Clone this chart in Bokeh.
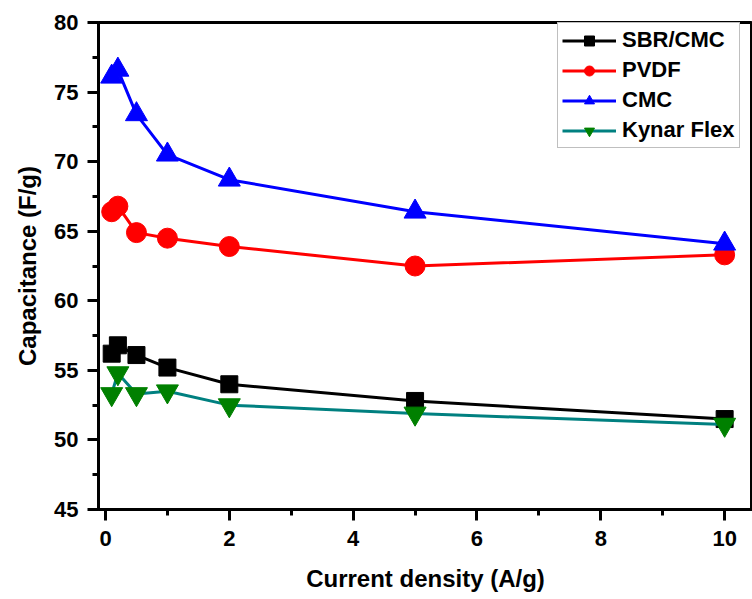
from bokeh.plotting import figure
from bokeh.models import Range1d, SingleIntervalTicker, Legend, LegendItem
from bokeh.embed import file_html
from bokeh.resources import INLINE

# ---- data ----
current_density = [0.1, 0.2, 0.5, 1, 2, 5, 10]
sbr_cmc = [56.2, 56.8, 56.1, 55.2, 54.0, 52.8, 51.5]
pvdf = [66.4, 66.8, 64.9, 64.5, 63.9, 62.5, 63.3]
cmc = [76.1, 76.6, 73.4, 70.5, 68.7, 66.4, 64.1]
kynar_flex = [53.3, 54.8, 53.3, 53.5, 52.5, 51.9, 51.1]

series_names = ["SBR/CMC", "PVDF", "CMC", "Kynar Flex"]
x_label = "Current density (A/g)"
y_label = "Capacitance (F/g)"

FONT = "Liberation Sans"

p = figure(width=752, height=599, output_backend="svg", toolbar_location=None,
           x_range=Range1d(-0.113, 10.45), y_range=Range1d(45, 80),
           min_border_left=98, min_border_right=0, min_border_top=22,
           min_border_bottom=90)
p.grid.visible = False
p.background_fill_color = "white"
p.border_fill_color = "white"
p.outline_line_color = "black"
p.outline_line_width = 3

p.xaxis.ticker = SingleIntervalTicker(interval=2, num_minor_ticks=2)
p.yaxis.ticker = SingleIntervalTicker(interval=5, num_minor_ticks=2)

for ax in (p.xaxis, p.yaxis):
    ax.axis_line_width = 3
    ax.axis_line_color = "black"
    ax.major_tick_line_width = 3
    ax.minor_tick_line_width = 3
    ax.major_tick_out = 11
    ax.major_tick_in = 0
    ax.minor_tick_out = 6
    ax.minor_tick_in = 0
    ax.major_label_text_font = FONT
    ax.major_label_text_font_style = "bold"
    ax.major_label_text_font_size = "22px"
    ax.major_label_text_color = "black"
    ax.axis_label_text_font = FONT
    ax.axis_label_text_font_style = "bold"
    ax.axis_label_text_font_size = "24px"
    ax.axis_label_text_color = "black"

p.xaxis.axis_label = x_label
p.yaxis.axis_label = y_label
p.xaxis.major_label_standoff = 10
p.yaxis.major_label_standoff = 9
p.xaxis.axis_label_standoff = 16
p.yaxis.axis_label_standoff = 10

styles = [
    (sbr_cmc, "black", "black", "square", 17),
    (pvdf, "#FF0000", "#FF0000", "circle", 20),
    (cmc, "#0000FF", "#0000FF", "triangle", 22),
    (kynar_flex, "#008080", "#008000", "inverted_triangle", 22),
]

items = []
for name, (vals, lc, mc, marker, sz) in zip(series_names, styles):
    r_line = p.line(current_density, vals, line_color=lc, line_width=3)
    r_pt = p.scatter(current_density, vals, marker=marker, size=sz,
                     fill_color=mc, line_color=mc)
    items.append(LegendItem(label=name, renderers=[r_line, r_pt]))

legend = Legend(items=items, location=(459, 361))
legend.label_text_font = FONT
legend.label_text_font_style = "bold"
legend.label_text_font_size = "22px"
legend.label_text_color = "black"
legend.glyph_width = 54
legend.glyph_height = 25
legend.label_height = 25
legend.spacing = 4
legend.padding = 4
legend.margin = 0
legend.label_standoff = 6
legend.border_line_color = "#808080"
legend.border_line_width = 1
legend.background_fill_color = "white"
legend.background_fill_alpha = 1
p.add_layout(legend)

open("out.html", "w").write(file_html(p, INLINE))
